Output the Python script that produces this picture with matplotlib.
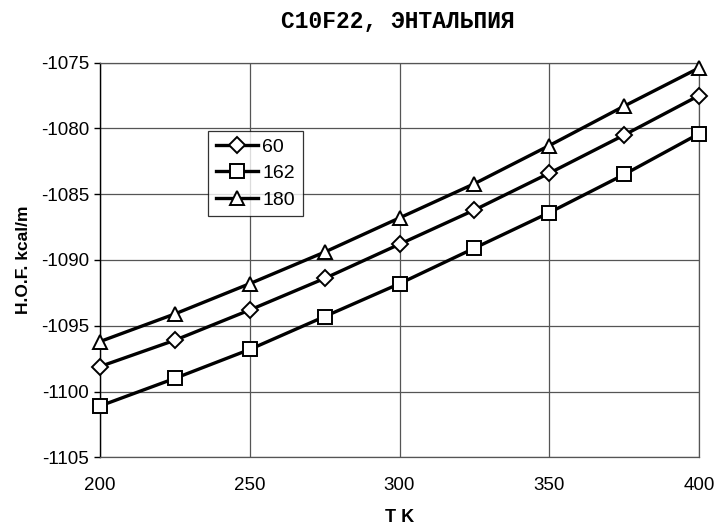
import matplotlib
matplotlib.use("Agg")
import matplotlib.pyplot as plt

temps = [200, 225, 250, 275, 300, 325, 350, 375, 400]
s60 = [-1098.1, -1096.1, -1093.8, -1091.4, -1088.8, -1086.2, -1083.4, -1080.5, -1077.5]
s162 = [-1101.1, -1099.0, -1096.8, -1094.3, -1091.8, -1089.1, -1086.4, -1083.5, -1080.4]
s180 = [-1096.2, -1094.1, -1091.8, -1089.4, -1086.8, -1084.2, -1081.3, -1078.3, -1075.4]
labels = ["60", "162", "180"]
xticks = [200, 250, 300, 350, 400]
yticks = [-1105, -1100, -1095, -1090, -1085, -1080, -1075]

plt.rcParams['font.family'] = ['Liberation Sans', 'DejaVu Sans']
plt.rcParams['axes.unicode_minus'] = False

fig = plt.figure(figsize=(7.16, 5.25), dpi=100)
ax = fig.add_axes([0.1397, 0.1290, 0.8366, 0.7516])

grid_c = '#555555'
for v in xticks:
    ax.axvline(v, color=grid_c, lw=0.9, zorder=1)
for v in yticks:
    ax.axhline(v, color=grid_c, lw=0.9, zorder=1)

mk = dict(color='black', lw=2.4, markerfacecolor='white', markeredgecolor='black',
          markeredgewidth=1.4, zorder=3, clip_on=False)
ax.plot(temps, s60, marker='D', markersize=8, label=labels[0], **mk)
ax.plot(temps, s162, marker='s', markersize=10, label=labels[1], **mk)
ax.plot(temps, s180, marker='^', markersize=10.5, label=labels[2], **mk)

ax.set_xlim(200, 400)
ax.set_ylim(-1105, -1075)
ax.set_xticks(xticks)
ax.set_yticks(yticks)
ax.tick_params(axis='y', direction='out', length=4, width=1, labelsize=13.5, pad=4)
ax.tick_params(axis='x', length=0, labelsize=13.5, pad=14)

for s in ['top', 'right', 'bottom']:
    ax.spines[s].set_color(grid_c)
    ax.spines[s].set_linewidth(0.9)
ax.spines['left'].set_color('black')
ax.spines['left'].set_linewidth(1.0)

ax.set_xlabel('T K', fontsize=13, fontweight='bold', labelpad=11)
ax.set_ylabel('H.O.F. kcal/m', fontsize=12.5, fontweight='bold', labelpad=7)

fig.text(0.555, 0.96, 'C10F22, ЭНТАЛЬПИЯ', ha='center', va='center',
         fontsize=16.5, fontweight='bold', family=['Liberation Mono', 'DejaVu Sans Mono'])

leg = ax.legend(loc='upper left', bbox_to_anchor=(0.180, 0.828), fontsize=14,
                frameon=True, fancybox=False, shadow=False, handlelength=2.2,
                handletextpad=0.2, borderpad=0.4, labelspacing=0.45, borderaxespad=0)
leg.get_frame().set_edgecolor('black')
leg.get_frame().set_linewidth(0.9)
leg.set_zorder(5)

fig.savefig('out.png', dpi=100)
